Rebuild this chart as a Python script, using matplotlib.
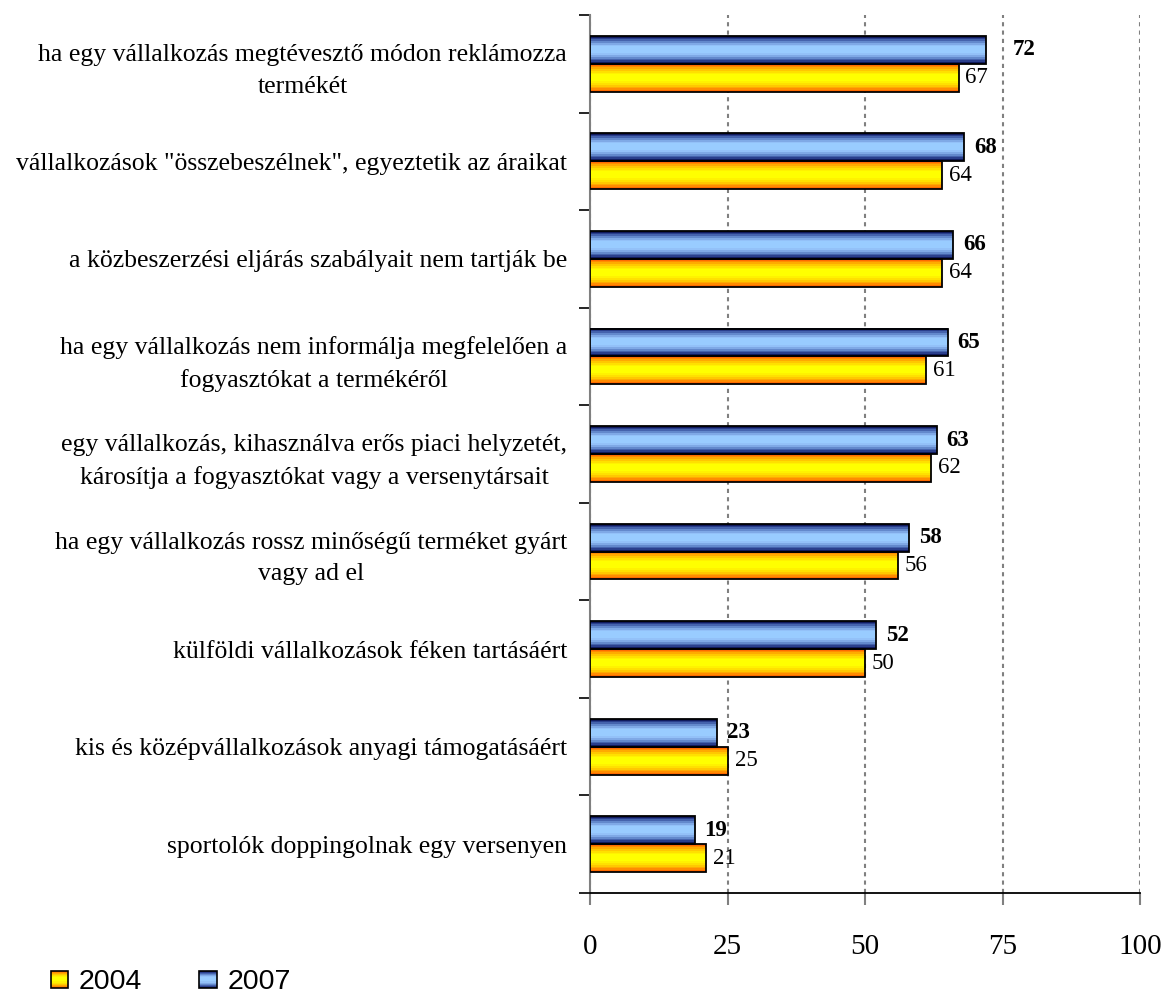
import numpy as np
import matplotlib
matplotlib.use("Agg")
import matplotlib.pyplot as plt
from matplotlib.colors import ListedColormap
from matplotlib.patches import Rectangle
from matplotlib.legend_handler import HandlerBase

categories = [
    "ha egy vállalkozás megtévesztő módon reklámozza\ntermékét",
    "vállalkozások \"összebeszélnek\", egyeztetik az áraikat",
    "a közbeszerzési eljárás szabályait nem tartják be",
    "ha egy vállalkozás nem informálja megfelelően a\nfogyasztókat a termékéről",
    "egy vállalkozás, kihasználva erős piaci helyzetét,\nkárosítja a fogyasztókat vagy a versenytársait",
    "ha egy vállalkozás rossz minőségű terméket gyárt\nvagy ad el",
    "külföldi vállalkozások féken tartásáért",
    "kis és középvállalkozások anyagi támogatásáért",
    "sportolók doppingolnak egy versenyen",
]
values_2007 = [72, 68, 66, 65, 63, 58, 52, 23, 19]
values_2004 = [67, 64, 64, 61, 62, 56, 50, 25, 21]
series_names = ["2004", "2007"]
xticks = [0, 25, 50, 75, 100]

serif = ["Liberation Serif", "DejaVu Serif"]
sans = ["Liberation Sans", "DejaVu Sans"]

blue_cols = ["#101a5c", "#2a3f8c", "#4563ad", "#6389cc", "#7fa9e6", "#93c1f8", "#99ccff", "#99ccff"]
orange_cols = ["#ff6a00", "#ff8c00", "#ffaa00", "#ffc800", "#ffe000", "#fff200", "#ffff00", "#ffff00"]


def stripe_profile(cols):
    seq = cols + cols[::-1]
    return ListedColormap(seq), np.arange(len(seq)).reshape(-1, 1)


cmap_b, arr_b = stripe_profile(blue_cols)
cmap_o, arr_o = stripe_profile(orange_cols)

fig = plt.figure(figsize=(11.66, 9.98), dpi=100)
ax = fig.add_axes([590 / 1166, 1 - 893 / 998, 550 / 1166, (893 - 15) / 998])

n = len(categories)
y = np.arange(n)
h = 0.286

for i in range(n):
    # 2007 (upper) bar
    v7 = values_2007[i]
    y0, y1 = i - h, i
    ax.imshow(arr_b, cmap=cmap_b, aspect="auto", extent=(0, v7, y1, y0),
              interpolation="nearest", zorder=3)
    ax.add_patch(Rectangle((0, y0), v7, h, fill=False, edgecolor="black", lw=1.3, zorder=4))
    # 2004 (lower) bar
    v4 = values_2004[i]
    y0, y1 = i, i + h
    ax.imshow(arr_o, cmap=cmap_o, aspect="auto", extent=(0, v4, y1, y0),
              interpolation="nearest", zorder=3)
    ax.add_patch(Rectangle((0, y0), v4, h, fill=False, edgecolor="black", lw=1.3, zorder=4))

    off7 = 27 if i == 0 else 10
    ax.annotate(str(v7), (v7, i - h / 2), xytext=(off7 * 0.72, 0), textcoords="offset points",
                ha="left", va="center", fontsize=16.5, fontweight="bold", family=serif)
    ax.annotate(str(v4), (v4, i + h / 2), xytext=(7 * 0.72, 0), textcoords="offset points",
                ha="left", va="center", fontsize=16.5, family=serif)

ax.set_xlim(0, 100)
ax.set_ylim(n - 0.5, -0.5)

ax.set_xticks(xticks)
ax.set_xticklabels([str(t) for t in xticks], fontsize=21, family=serif)
ax.tick_params(axis="x", length=8.6, width=1.5, color="#808080", pad=21)

ax.set_yticks(y)
ax.set_yticklabels(categories, fontsize=18.5, family=serif, multialignment="center",
                   linespacing=1.55)
ax.tick_params(axis="y", which="major", length=0, pad=16.5)
ax.set_yticks(np.arange(-0.5, n, 1), minor=True)
ax.tick_params(axis="y", which="minor", length=8, width=1.2, color="black")

ax.xaxis.grid(True, color="#808080", linestyle=(0, (2, 2)), lw=1.5, zorder=0)
ax.set_axisbelow(True)

for s in ["top", "right"]:
    ax.spines[s].set_visible(False)
ax.spines["left"].set_color("#808080")
ax.spines["left"].set_linewidth(1.5)
ax.spines["bottom"].set_color("black")
ax.spines["bottom"].set_linewidth(1.3)


class StripeHandler(HandlerBase):
    def __init__(self, cols):
        super().__init__()
        self.cols = cols

    def create_artists(self, legend, orig_handle, xdescent, ydescent, width, height, fontsize, trans):
        seq = self.cols + self.cols[::-1]
        side = min(width, height)
        x0 = -xdescent + (width - side) / 2
        y0 = -ydescent + (height - side) / 2
        artists = []
        k = len(seq)
        for j, c in enumerate(seq):
            r = Rectangle((x0, y0 + side * j / k), side, side / k, facecolor=c, edgecolor="none",
                          transform=trans)
            artists.append(r)
        artists.append(Rectangle((x0, y0), side, side, fill=False, edgecolor="black", lw=1.2,
                                 transform=trans))
        return artists


h04 = Rectangle((0, 0), 1, 1)
h07 = Rectangle((0, 1), 1, 1)
leg = fig.legend([h04, h07], series_names, loc="lower left",
                 bbox_to_anchor=(25 / 1166, -23 / 998), ncol=2, frameon=False,
                 prop={"family": sans, "size": 20.5}, handlelength=0.6, handleheight=0.6,
                 handletextpad=0.4, columnspacing=2.0, borderpad=0.4,
                 handler_map={h04: StripeHandler(orange_cols), h07: StripeHandler(blue_cols)})

fig.savefig("out.png", dpi=100)
